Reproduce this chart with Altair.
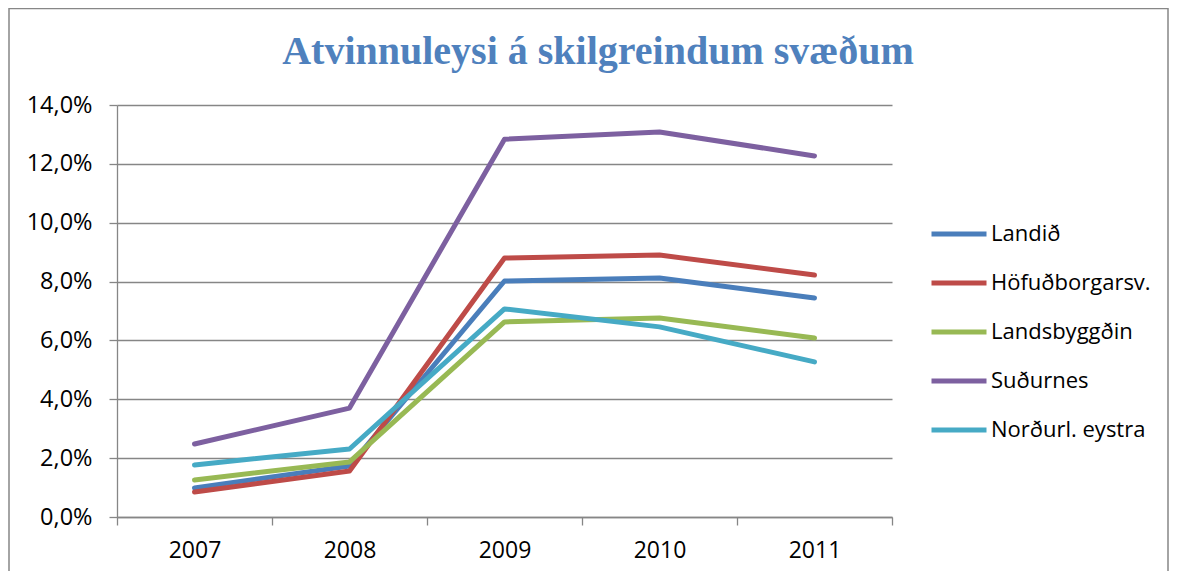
import altair as alt
import pandas as pd

title_text = "Atvinnuleysi á skilgreindum svæðum"
years = ["2007", "2008", "2009", "2010", "2011"]
series_names = ["Landið", "Höfuðborgarsv.", "Landsbyggðin", "Suðurnes", "\u00a0Norðurl. eystra"]
colors = ["#4A7EBB", "#BE4B48", "#98B954", "#7D60A0", "#46AAC5"]

landid = [0.0099, 0.0173, 0.0802, 0.0812, 0.0744]
hofudborgarsv = [0.0085, 0.0156, 0.0880, 0.0890, 0.0822]
landsbyggdin = [0.0126, 0.0187, 0.0663, 0.0676, 0.0608]
sudurnes = [0.0248, 0.0370, 0.1284, 0.1308, 0.1227]
nordurl_eystra = [0.0177, 0.0231, 0.0707, 0.0646, 0.0527]

all_series = [landid, hofudborgarsv, landsbyggdin, sudurnes, nordurl_eystra]
rows = []
for si, (name, vals) in enumerate(zip(series_names, all_series)):
    for y, v in zip(years, vals):
        rows.append({"year": y, "series": name, "value": v, "order": si})
df = pd.DataFrame(rows)

GRID = "#868686"
FONT = "Open Sans"

lines = alt.Chart(df).mark_line(strokeWidth=5, strokeCap="round", strokeJoin="round").encode(
    x=alt.X(
        "year:O",
        bandPosition=0.5,
        scale=alt.Scale(type="band", paddingInner=0, paddingOuter=0),
        axis=alt.Axis(
            title=None, labelAngle=0, tickBand="extent", grid=False,
            domainColor=GRID, domainWidth=1.3, tickColor=GRID, tickWidth=1.3, tickSize=8,
            labelFont=FONT, labelFontSize=23, labelColor="#000000", labelPadding=14,
        ),
    ),
    y=alt.Y(
        "value:Q",
        scale=alt.Scale(domain=[0, 0.14], nice=False),
        axis=alt.Axis(
            title=None, values=[0, 0.02, 0.04, 0.06, 0.08, 0.10, 0.12, 0.14],
            labelExpr="replace(format(datum.value, '.1%'), '.', ',')",
            grid=True, gridColor=GRID, gridWidth=1.3,
            domainColor=GRID, domainWidth=1.3, tickColor=GRID, tickWidth=1.3, tickSize=8,
            labelFont=FONT, labelFontSize=23.5, labelColor="#000000", labelPadding=17,
        ),
    ),
    color=alt.Color(
        "series:N",
        scale=alt.Scale(domain=series_names, range=colors),
        legend=alt.Legend(
            title=None, orient="none", legendX=812, legendY=99,
            symbolType="stroke", symbolSize=3025, symbolStrokeWidth=5,
            labelFont=FONT, labelFontSize=22, labelColor="#000000",
            rowPadding=8, labelOffset=2,
        ),
    ),
    order=alt.Order("order:Q"),
)

title_chart = alt.Chart(pd.DataFrame({"t": [title_text]})).mark_text(
    font="Liberation Serif", fontSize=40, fontWeight="bold", color="#4F81BD",
    baseline="alphabetic", align="center",
).encode(text="t:N", x=alt.value(481), y=alt.value(-41))

frame = alt.Chart(pd.DataFrame({"a": [0]})).mark_rect(
    fillOpacity=0, stroke="#878787", strokeWidth=1.5,
).encode(x=alt.value(-108), x2=alt.value(1051), y=alt.value(-96.5), y2=alt.value(520))

chart = alt.layer(frame, lines, title_chart).properties(
    width=775, height=412,
    padding={"left": 109, "top": 97, "right": 278, "bottom": 54},
    autosize=alt.AutoSizeParams(type="none"),
).configure_view(stroke=None)

chart.save("out.html", embed_options={"renderer": "svg", "actions": False})
